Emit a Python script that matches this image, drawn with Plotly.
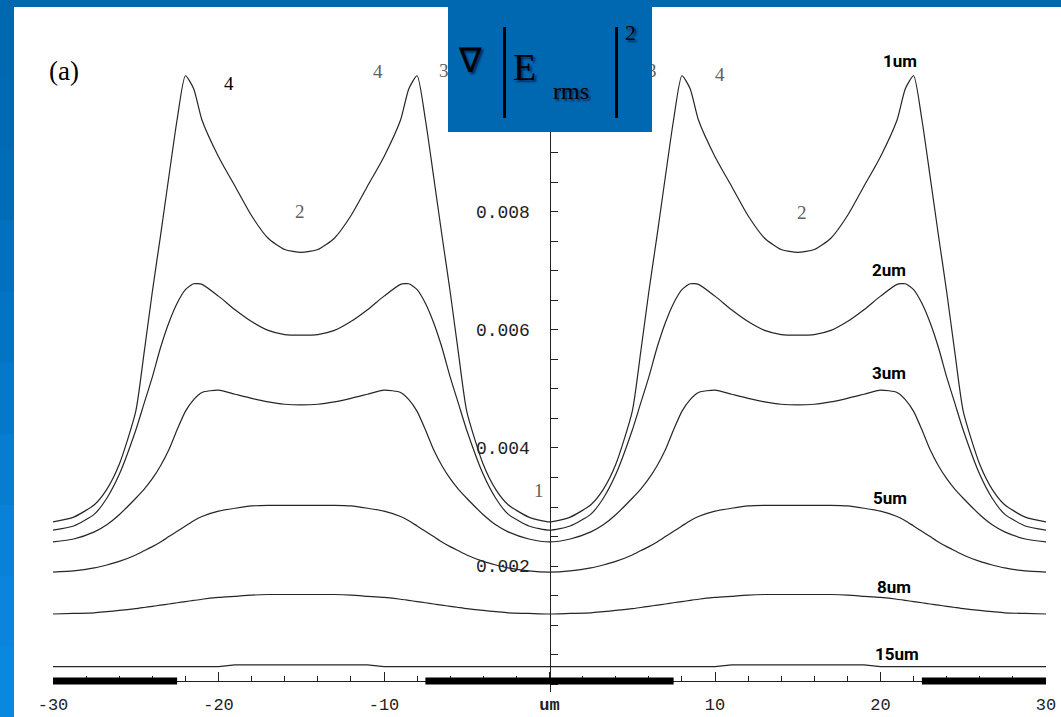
import plotly.graph_objects as go

# ---------------- data ----------------
X_POS = [-30, -28.75, -27.5, -26.75, -26, -25, -24.5, -24, -23.5, -23, -22.5, -22, -21.5, -21, -20, -19, -18, -17, -16, -15,
         -14, -13, -12, -11, -10, -9, -8.5, -8, -7.5, -7, -6.5, -6, -5.5, -5, -4, -3.25, -2.5, -1.25, 0,
         1.25, 2.5, 3.25, 4, 5, 5.5, 6, 6.5, 7, 7.5, 8, 8.5, 9, 10, 11, 12, 13, 14, 15,
         16, 17, 18, 19, 20, 21, 21.5, 22, 22.5, 23, 23.5, 24, 24.5, 25, 26, 26.75, 27.5, 28.75, 30]

Y_1UM = [0.00275, 0.00283, 0.00304, 0.00330, 0.00372, 0.00462, 0.00560, 0.00664, 0.00760, 0.00859, 0.00956, 0.01030, 0.01008, 0.00955, 0.00893, 0.00843, 0.00793, 0.00755, 0.00736, 0.00731,
         0.00736, 0.00755, 0.00793, 0.00843, 0.00893, 0.00955, 0.01008, 0.01030, 0.00956, 0.00859, 0.00760, 0.00664, 0.00560, 0.00462, 0.00372, 0.00330, 0.00304, 0.00283, 0.00275,
         0.00283, 0.00304, 0.00330, 0.00372, 0.00462, 0.00560, 0.00664, 0.00760, 0.00859, 0.00956, 0.01030, 0.01008, 0.00955, 0.00893, 0.00843, 0.00793, 0.00755, 0.00736, 0.00731,
         0.00736, 0.00755, 0.00793, 0.00843, 0.00893, 0.00955, 0.01008, 0.01030, 0.00956, 0.00859, 0.00760, 0.00664, 0.00560, 0.00462, 0.00372, 0.00330, 0.00304, 0.00283, 0.00275]

Y_2UM = [0.00261, 0.00268, 0.00288, 0.00315, 0.00355, 0.00430, 0.00475, 0.00520, 0.00570, 0.00612, 0.00645, 0.00668, 0.00678, 0.00677, 0.00657, 0.00634, 0.00614, 0.00599, 0.00592, 0.00591,
         0.00592, 0.00599, 0.00614, 0.00634, 0.00657, 0.00677, 0.00678, 0.00668, 0.00645, 0.00612, 0.00570, 0.00520, 0.00475, 0.00430, 0.00355, 0.00315, 0.00288, 0.00268, 0.00261,
         0.00268, 0.00288, 0.00315, 0.00355, 0.00430, 0.00475, 0.00520, 0.00570, 0.00612, 0.00645, 0.00668, 0.00678, 0.00677, 0.00657, 0.00634, 0.00614, 0.00599, 0.00592, 0.00591,
         0.00592, 0.00599, 0.00614, 0.00634, 0.00657, 0.00677, 0.00678, 0.00668, 0.00645, 0.00612, 0.00570, 0.00520, 0.00475, 0.00430, 0.00355, 0.00315, 0.00288, 0.00268, 0.00261]

Y_3UM = [0.00241, 0.00246, 0.00258, 0.00270, 0.00287, 0.00315, 0.00330, 0.00348, 0.00370, 0.00397, 0.00431, 0.00462, 0.00482, 0.00494, 0.00498, 0.00491, 0.00484, 0.00478, 0.00474, 0.00473,
         0.00474, 0.00478, 0.00484, 0.00491, 0.00498, 0.00494, 0.00482, 0.00462, 0.00431, 0.00397, 0.00370, 0.00348, 0.00330, 0.00315, 0.00287, 0.00270, 0.00258, 0.00246, 0.00241,
         0.00246, 0.00258, 0.00270, 0.00287, 0.00315, 0.00330, 0.00348, 0.00370, 0.00397, 0.00431, 0.00462, 0.00482, 0.00494, 0.00498, 0.00491, 0.00484, 0.00478, 0.00474, 0.00473,
         0.00474, 0.00478, 0.00484, 0.00491, 0.00498, 0.00494, 0.00482, 0.00462, 0.00431, 0.00397, 0.00370, 0.00348, 0.00330, 0.00315, 0.00287, 0.00270, 0.00258, 0.00246, 0.00241]

Y_5UM = [0.00190, 0.00192, 0.00197, 0.00202, 0.00208, 0.00219, 0.00226, 0.00233, 0.00241, 0.00250, 0.00259, 0.00268, 0.00277, 0.00284, 0.00293, 0.00298, 0.00302, 0.00303, 0.00303, 0.00303,
         0.00303, 0.00303, 0.00302, 0.00298, 0.00293, 0.00284, 0.00277, 0.00268, 0.00259, 0.00250, 0.00241, 0.00233, 0.00226, 0.00219, 0.00208, 0.00202, 0.00197, 0.00192, 0.00190,
         0.00192, 0.00197, 0.00202, 0.00208, 0.00219, 0.00226, 0.00233, 0.00241, 0.00250, 0.00259, 0.00268, 0.00277, 0.00284, 0.00293, 0.00298, 0.00302, 0.00303, 0.00303, 0.00303,
         0.00303, 0.00303, 0.00302, 0.00298, 0.00293, 0.00284, 0.00277, 0.00268, 0.00259, 0.00250, 0.00241, 0.00233, 0.00226, 0.00219, 0.00208, 0.00202, 0.00197, 0.00192, 0.00190]

Y_8UM = [0.00119, 0.00120, 0.00121, 0.00123, 0.00125, 0.00128, 0.00130, 0.00132, 0.00134, 0.00136, 0.00138, 0.00140, 0.00142, 0.00144, 0.00147, 0.00149, 0.00151, 0.00152, 0.00152, 0.00152,
         0.00152, 0.00152, 0.00151, 0.00149, 0.00147, 0.00144, 0.00142, 0.00140, 0.00138, 0.00136, 0.00134, 0.00132, 0.00130, 0.00128, 0.00125, 0.00123, 0.00121, 0.00120, 0.00119,
         0.00120, 0.00121, 0.00123, 0.00125, 0.00128, 0.00130, 0.00132, 0.00134, 0.00136, 0.00138, 0.00140, 0.00142, 0.00144, 0.00147, 0.00149, 0.00151, 0.00152, 0.00152, 0.00152,
         0.00152, 0.00152, 0.00151, 0.00149, 0.00147, 0.00144, 0.00142, 0.00140, 0.00138, 0.00136, 0.00134, 0.00132, 0.00130, 0.00128, 0.00125, 0.00123, 0.00121, 0.00120, 0.00119]

Y_15UM = [0.00030, 0.00030, 0.00030, 0.00030, 0.00030, 0.00030, 0.00030, 0.00030, 0.00030, 0.00030, 0.00030, 0.00030, 0.00030, 0.00030, 0.00030, 0.00033, 0.00033, 0.00033, 0.00033, 0.00033,
          0.00033, 0.00033, 0.00033, 0.00033, 0.00030, 0.00030, 0.00030, 0.00030, 0.00030, 0.00030, 0.00030, 0.00030, 0.00030, 0.00030, 0.00030, 0.00030, 0.00030, 0.00030, 0.00030,
          0.00030, 0.00030, 0.00030, 0.00030, 0.00030, 0.00030, 0.00030, 0.00030, 0.00030, 0.00030, 0.00030, 0.00030, 0.00030, 0.00030, 0.00033, 0.00033, 0.00033, 0.00033, 0.00033,
          0.00033, 0.00033, 0.00033, 0.00033, 0.00030, 0.00030, 0.00030, 0.00030, 0.00030, 0.00030, 0.00030, 0.00030, 0.00030, 0.00030, 0.00030, 0.00030, 0.00030, 0.00030, 0.00030]

CURVES = [("1um", Y_1UM), ("2um", Y_2UM), ("3um", Y_3UM), ("5um", Y_5UM), ("8um", Y_8UM), ("15um", Y_15UM)]

ELECTRODE_START = [-30, -7.5, 22.5]
ELECTRODE_END = [-22.5, 7.5, 30]

X_TICKS = [-30, -20, -10, 0, 10, 20, 30]
X_TICK_TEXT = ["-30", "-20", "-10", "<b>um</b>", "10", "20", "30"]
Y_TICKS = [0.002, 0.004, 0.006, 0.008]
Y_TICK_TEXT = ["0.002", "0.004", "0.006", "0.008"]

X_RANGE = [-30, 30]
Y_RANGE = [-0.000130, 0.011413]
Y_CROSS = 0.000056   # level where the x axis crosses

# ---------------- layout helpers ----------------
W, H = 1061, 717
L, R, T, B = 53, 1046, 10, 692


def fx(px):
    return (px - L) / (R - L)


def fy(py):
    return (B - py) / (B - T)


BLUE = "#0067b1"
CURVE_COL = "#262626"

fig = go.Figure()

for name, vals in CURVES:
    shape = "linear" if name == "15um" else "spline"
    fig.add_trace(go.Scatter(x=X_POS, y=vals, mode="lines", name=name,
                             line=dict(color=CURVE_COL, width=1.2, shape=shape, smoothing=0.6),
                             hoverinfo="skip", showlegend=False))

for s, e in zip(ELECTRODE_START, ELECTRODE_END):
    fig.add_trace(go.Scatter(x=[s, e], y=[Y_CROSS, Y_CROSS], mode="lines",
                             line=dict(color="black", width=7),
                             hoverinfo="skip", showlegend=False))

shapes = []
# white slide area
shapes.append(dict(type="rect", xref="paper", yref="paper", x0=fx(14), x1=fx(1062),
                   y0=fy(718), y1=fy(7), fillcolor="white", line=dict(width=0), layer="below"))
# gradient on left strip
grad = ["#0067b1", "#0069b4", "#006cb8", "#0170be", "#0374c4", "#0578ca", "#077dd0", "#0981d6", "#0a85db", "#0a88df"]
n = len(grad)
for i, c in enumerate(grad):
    y_top = 7 + i * (711 / n)
    y_bot = 7 + (i + 1) * (711 / n) + 1
    shapes.append(dict(type="rect", xref="paper", yref="paper", x0=fx(-1), x1=fx(14),
                       y0=fy(y_bot), y1=fy(y_top), fillcolor=c, line=dict(width=0), layer="below"))

ann = []


def add_text(txt, px, py, size, family="Liberation Serif", color="black", weight="normal", shadow=None):
    f = dict(family=family, size=size, color=color, weight=weight)
    if shadow:
        f["shadow"] = shadow
    ann.append(dict(text=txt, xref="paper", yref="paper", x=fx(px), y=fy(py),
                    xanchor="center", yanchor="middle", showarrow=False, font=f))


def add_box(px0, py0, w, h, color):
    ann.append(dict(text=" ", xref="paper", yref="paper", x=fx(px0), y=fy(py0),
                    xanchor="left", yanchor="top", showarrow=False, width=w, height=h,
                    bgcolor=color, borderpad=0, borderwidth=0, font=dict(size=1)))


# numbers near the peaks
add_text("(a)", 64, 71, 27)
add_text("4", 229, 83, 19)
add_text("4", 378, 71, 19, color="#606060")
add_text("2", 300, 212, 19, color="#606060")
add_text("4", 720, 74, 19, color="#606060")
add_text("2", 802, 213, 19, color="#606060")
add_text("1", 539, 490, 19, color="#606060")
add_text("3", 444, 70, 19, color="#606060")
add_text("3", 652, 70, 19, color="#606060")

# curve labels
for txt, px, py in [("1um", 900, 61), ("2um", 889, 270), ("3um", 889, 373),
                    ("5um", 890, 498), ("8um", 894, 587), ("15um", 897, 654)]:
    add_text(txt, px, py, 17, family="Roboto", weight="bold")

# formula box (drawn as annotation so it hides the partly covered digits)
add_box(448, -1, 204, 133, BLUE)
add_box(503, 27, 3, 91, "black")
add_box(615, 27, 3, 91, "black")

sh = "2px 2px 2px rgba(0,20,60,0.7)"
add_text("∇", 470, 60, 34, shadow=sh)
add_text("E", 524, 67, 38, shadow=sh)
add_text("rms", 571, 91, 24, shadow=sh)
add_text("2", 630, 33, 22, shadow=sh)

fig.update_layout(
    width=W, height=H,
    margin=dict(l=L, r=W - R, t=T, b=H - B),
    paper_bgcolor=BLUE, plot_bgcolor="rgba(0,0,0,0)",
    shapes=shapes, annotations=ann,
    xaxis=dict(range=X_RANGE, anchor="free", position=(Y_CROSS - Y_RANGE[0]) / (Y_RANGE[1] - Y_RANGE[0]),
               automargin=False,
               showline=True, linecolor="#222", linewidth=1, showgrid=False, zeroline=False,
               layer="below traces",
               ticks="inside", ticklen=9, tickwidth=1, tickcolor="#222",
               tickvals=X_TICKS, ticktext=X_TICK_TEXT, ticklabelstandoff=8,
               tickfont=dict(family="Liberation Mono", size=17, color="#222"),
               minor=dict(dtick=2, tick0=0, ticks="inside", ticklen=5, tickcolor="#222")),
    yaxis=dict(range=Y_RANGE, anchor="free", position=0.5, side="left",
               automargin=False,
               showline=True, linecolor="#222", linewidth=1, showgrid=False, zeroline=False,
               layer="below traces",
               ticks="inside", ticklen=7, tickwidth=1, tickcolor="#222",
               tickvals=Y_TICKS, ticktext=Y_TICK_TEXT, ticklabelstandoff=16,
               tickfont=dict(family="Liberation Mono", size=18, color="#222"),
               minor=dict(dtick=0.0005, tick0=0, ticks="inside", ticklen=7, tickcolor="#222")),
)

fig.write_html("out.html", config={"displayModeBar": False},
               post_script="document.body.style.margin='0';document.body.style.overflow='hidden';")
